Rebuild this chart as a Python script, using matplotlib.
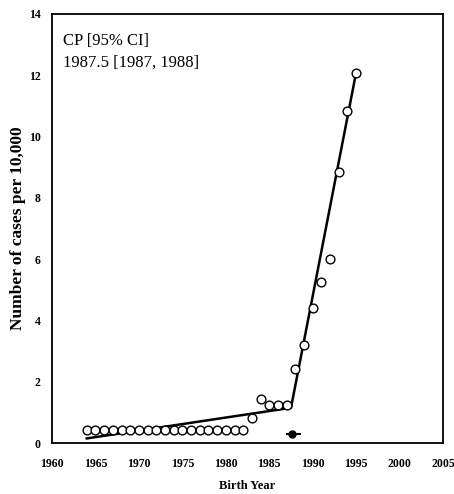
"""Joinpoint-style plot: case rate per 10,000 by birth year with change point."""

import matplotlib.pyplot as plt

birth_year = list(range(1964, 1996))
cases_per_10k = [
    0.42, 0.42, 0.42, 0.42, 0.42, 0.42, 0.42, 0.42, 0.42, 0.42,
    0.42, 0.42, 0.42, 0.42, 0.42, 0.42, 0.42, 0.42, 0.42,
    0.82, 1.45, 1.25, 1.25, 1.25,
    2.42, 3.2, 4.42, 5.24, 6.0, 8.83, 10.83, 12.06,
]

fit_year = [1964, 1987.5, 1995]
fit_value = [0.15, 1.15, 12.1]

# change point estimate and its horizontal bar as drawn
cp_year = 1987.6
cp_bar_low, cp_bar_high = 1986.9, 1988.7
cp_marker_y = 0.31

x_ticks = list(range(1960, 2006, 5))
y_ticks = list(range(0, 15, 2))

SERIF = ["Liberation Serif", "DejaVu Serif"]

fig = plt.figure(figsize=(4.54, 4.94), dpi=100)
ax = fig.add_axes([0.1145, 0.1032, 0.8615, 0.8685])

ax.plot(fit_year, fit_value, color="black", linewidth=1.8, zorder=2)
ax.plot(birth_year, cases_per_10k, linestyle="none", marker="o",
        markersize=6.3, markerfacecolor="white", markeredgecolor="black",
        markeredgewidth=1.0, zorder=3)
ax.errorbar([cp_year], [cp_marker_y],
            xerr=[[cp_year - cp_bar_low], [cp_bar_high - cp_year]],
            fmt="o", color="black", markersize=5, elinewidth=1.5, capsize=0)

ax.set_xlim(1960, 2005)
ax.set_ylim(0, 14)
ax.set_xticks(x_ticks)
ax.set_yticks(y_ticks)
ax.tick_params(length=0, labelsize=8.5)
ax.tick_params(axis="x", pad=11)
ax.tick_params(axis="y", pad=8)
for lab in ax.get_xticklabels() + ax.get_yticklabels():
    lab.set_family(SERIF)
    lab.set_fontweight("bold")
for s in ax.spines.values():
    s.set_linewidth(1.3)

ax.set_xlabel("Birth Year", family=SERIF, fontweight="bold", fontsize=9,
              labelpad=7)
ax.set_ylabel("Number of cases per 10,000", family=SERIF, fontweight="bold",
              fontsize=12.5, labelpad=2)

ax.text(0.028, 0.956, "CP [95% CI]\n1987.5 [1987, 1988]",
        transform=ax.transAxes, ha="left", va="top", family=SERIF,
        fontsize=12, linespacing=1.5)

fig.savefig("out.png", dpi=100)
